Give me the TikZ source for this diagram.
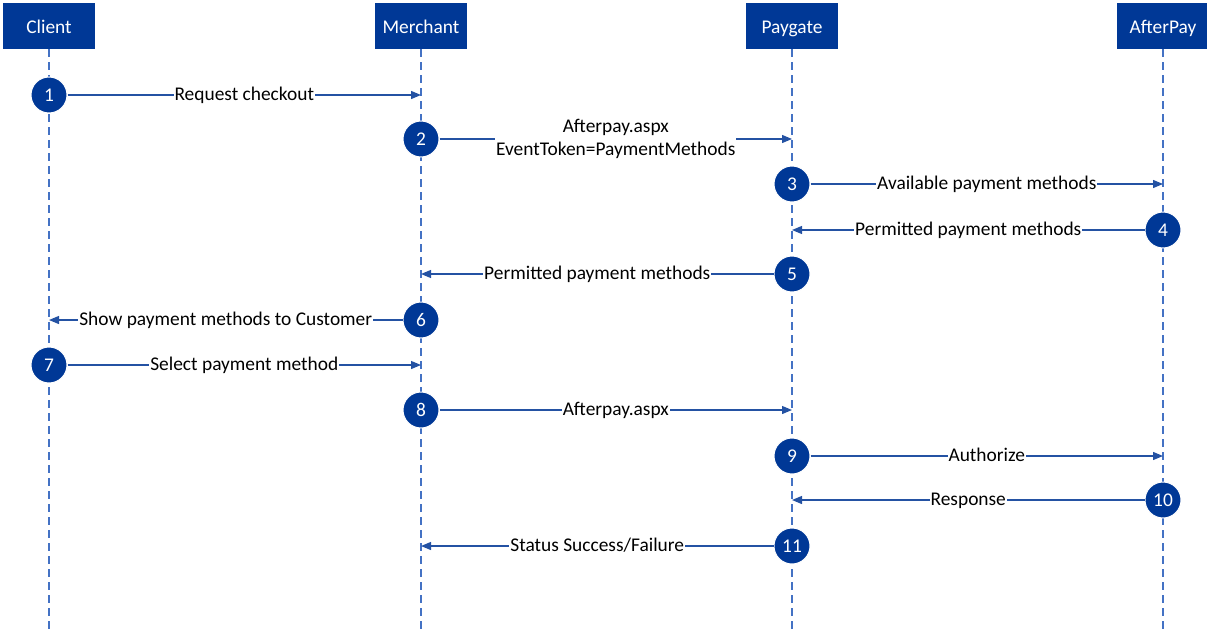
\documentclass[tikz,border=0pt]{standalone}
\usepackage{fontspec}
\setmainfont{Carlito}
\usetikzlibrary{arrows.meta}
\definecolor{hdr}{RGB}{0,56,150}
\definecolor{ln}{RGB}{36,82,163}
\definecolor{life}{RGB}{68,114,196}
\tikzset{
  hdrbox/.style={rectangle, fill=hdr, text=white, minimum width=92pt, minimum height=46pt, inner sep=0pt, text height=15pt, text depth=0pt, font=\fontsize{19.4}{23}\selectfont},
  lifeline/.style={draw=life, line width=1.2pt, dash pattern=on 8pt off 5pt},
  stepcirc/.style={circle, fill=hdr, draw=white, line width=1pt, text=white, minimum size=36pt, inner sep=0pt, font=\fontsize{19.4}{23}\selectfont},
  msg/.style={draw=ln, line width=1.2pt, -{Triangle[length=10pt,width=8pt]}},
  lbltwo/.style={fill=white, text=black, inner sep=1pt, font=\fontsize{19.4}{23}\selectfont, align=center},
  lbl/.style={lbltwo, text height=13pt, text depth=1.5pt}
}
\begin{document}
\begin{tikzpicture}[x=1pt,y=-1pt]
\useasboundingbox (0,0) rectangle (1207,634);
\node[hdrbox] (cli) at (49,26) {Client};
\node[hdrbox] (mer) at (421,26) {Merchant};
\node[hdrbox] (pay) at (792,26) {Paygate};
\node[hdrbox] (aft) at (1163,26) {AfterPay};
\coordinate (cliE) at (49,634);
\coordinate (merE) at (421,634);
\coordinate (payE) at (792,634);
\coordinate (aftE) at (1163,634);
\draw[lifeline] (cli.south) -- (cliE);
\draw[lifeline] (mer.south) -- (merE);
\draw[lifeline] (pay.south) -- (payE);
\draw[lifeline] (aft.south) -- (aftE);
\node[stepcirc] (c1) at (49,95) {1};
\node[stepcirc] (c2) at (421,139) {2};
\node[stepcirc] (c3) at (792,184) {3};
\node[stepcirc] (c4) at (1163,230) {4};
\node[stepcirc] (c5) at (792,274) {5};
\node[stepcirc] (c6) at (421,320) {6};
\node[stepcirc] (c7) at (49,365) {7};
\node[stepcirc] (c8) at (421,410) {8};
\node[stepcirc] (c9) at (792,456) {9};
\node[stepcirc] (c10) at (1163,500) {10};
\node[stepcirc] (c11) at (792,546) {11};
\draw[msg] (c1) -- (c1 -| mer) node[midway,lbl] {Request checkout};
\draw[msg] (c2) -- (c2 -| pay) node[midway,lbltwo] {Afterpay.aspx\\EventToken=PaymentMethods};
\draw[msg] (c3) -- (c3 -| aft) node[midway,lbl] {Available payment methods};
\draw[msg] (c4) -- (c4 -| pay) node[midway,lbl] {Permitted payment methods};
\draw[msg] (c5) -- (c5 -| mer) node[midway,lbl] {Permitted payment methods};
\draw[msg] (c6) -- (c6 -| cli) node[midway,lbl] {Show payment methods to Customer};
\draw[msg] (c7) -- (c7 -| mer) node[midway,lbl] {Select payment method};
\draw[msg] (c8) -- (c8 -| pay) node[midway,lbl] {Afterpay.aspx};
\draw[msg] (c9) -- (c9 -| aft) node[midway,lbl] {Authorize};
\draw[msg] (c10) -- (c10 -| pay) node[midway,lbl] {Response};
\draw[msg] (c11) -- (c11 -| mer) node[midway,lbl] {Status Success/Failure};
\end{tikzpicture}
\end{document}
